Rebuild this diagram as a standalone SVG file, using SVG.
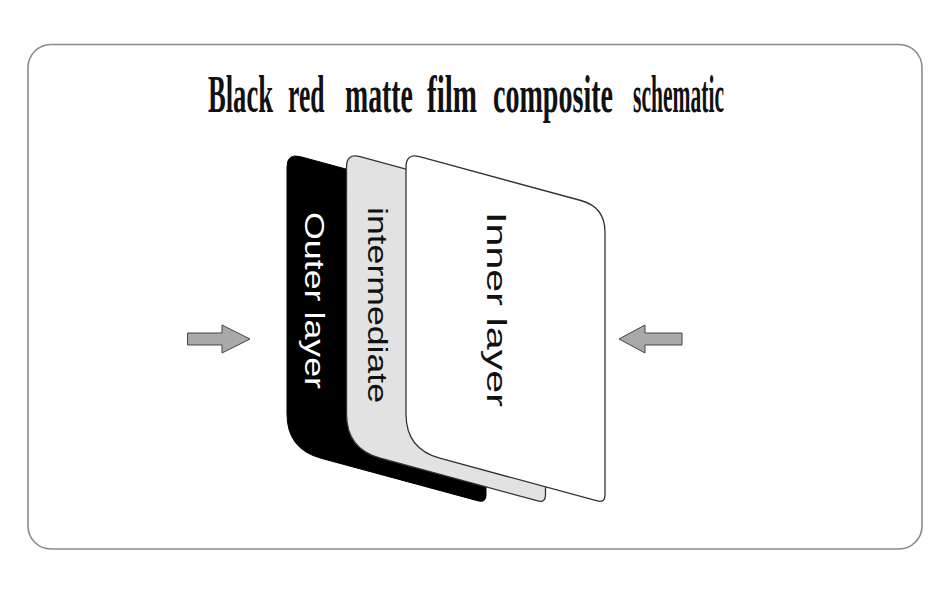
<svg xmlns="http://www.w3.org/2000/svg" width="950" height="595" viewBox="0 0 950 595">
<defs>
<style>
.card{stroke:#333;stroke-width:1.3}
.lbl{font-family:"Liberation Sans",Arial,sans-serif;font-size:27px}
.arrow{fill:#a9a9a9;stroke:#444;stroke-width:1}
.ttl{font-family:"Liberation Serif","Times New Roman",serif;font-weight:bold;font-size:52px;fill:#111}
</style>
<path id="cardShape" d="M13.5,3.7 L174.9,47.5 Q199,54 199,79 L199,342 Q199,350 191.3,347.9 L33.8,305.2 Q0,296 0,261 L0,14 Q0,0 13.5,3.7 Z"/>
</defs>
<rect x="0" y="0" width="950" height="595" fill="#fff"/>
<rect id="frame" x="28" y="44.5" width="894" height="504.5" rx="23" ry="23" fill="#fff" stroke="#8a8a8a" stroke-width="1.6"/>
<g id="title">
<text class="ttl" transform="translate(208,112) scale(0.511,1)">Black</text>
<text class="ttl" transform="translate(288,112) scale(0.493,1)">red</text>
<text class="ttl" transform="translate(345,112) scale(0.535,1)">matte</text>
<text class="ttl" transform="translate(427,112) scale(0.559,1)">film</text>
<text class="ttl" transform="translate(493,112) scale(0.54,1)">composite</text>
<text class="ttl" transform="translate(633,112) scale(0.415,1)">schematic</text>
</g>
<g id="outer-layer">
<use href="#cardShape" transform="translate(287,153)" fill="#000" stroke="#000" stroke-width="1"/>
<text class="lbl" transform="translate(305,212) rotate(90)" fill="#fff" textLength="177" lengthAdjust="spacingAndGlyphs">Outer layer</text>
</g>
<g id="intermediate">
<use href="#cardShape" class="card" transform="translate(346.5,153)" fill="#e2e2e2"/>
<text class="lbl" transform="translate(368,207) rotate(90)" fill="#111" font-size="28" textLength="196" lengthAdjust="spacingAndGlyphs">intermediate</text>
</g>
<g id="inner-layer">
<use href="#cardShape" class="card" transform="translate(406,153)" fill="#fff"/>
<text class="lbl" transform="translate(487,212) rotate(90)" fill="#111" font-size="29" textLength="195" lengthAdjust="spacingAndGlyphs">Inner layer</text>
</g>
<g id="connectors">
<polygon class="arrow" points="187.5,333 222,333 222,325 250,339 222,353 222,345 187.5,345"/>
<polygon class="arrow" points="682,333 645,333 645,325 619,339 645,353 645,345 682,345"/>
</g>
</svg>
